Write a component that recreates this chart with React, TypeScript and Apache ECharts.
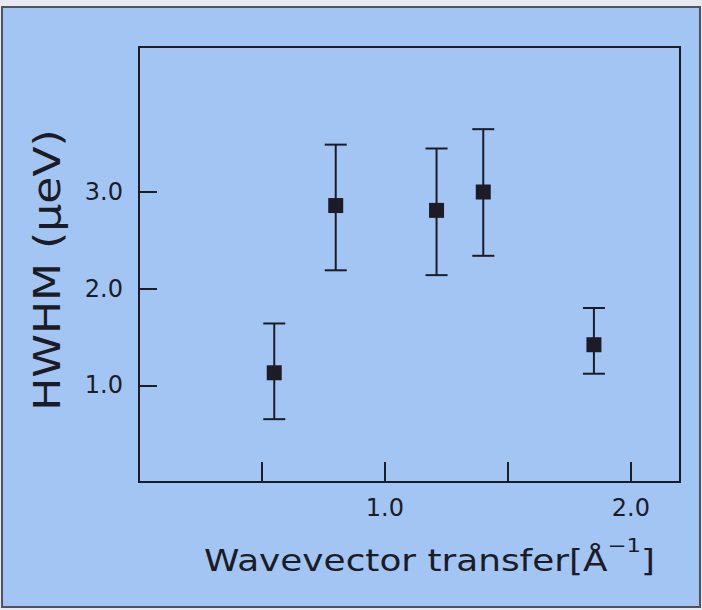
import React, { useEffect, useRef } from "react";
import * as echarts from "echarts";

// Data
const xValues = [0.55, 0.8, 1.21, 1.4, 1.85];
const hwhm = [1.13, 2.86, 2.81, 3.0, 1.42];
const errLow = [0.65, 2.19, 2.14, 2.34, 1.12];
const errHigh = [1.64, 3.49, 3.45, 3.65, 1.8];
const xTickValues = [0.5, 1.0, 1.5, 2.0];
const xLabelValues = [1.0, 2.0];
const yTickValues = [1.0, 2.0, 3.0];
const yLabelValues = [1.0, 2.0, 3.0];

const INK = "#1c1c26";
const BG = "#a2c5f3";
const FONT = "DejaVu Sans";

export default function App() {
  const ref = useRef<HTMLDivElement>(null);
  useEffect(() => {
    if (!ref.current) return;
    const chart = echarts.init(ref.current, null, { renderer: "svg" });
    const errData = xValues.map((x, i) => [x, errLow[i], errHigh[i]]);
    const ptData = xValues.map((x, i) => [x, hwhm[i]]);
    chart.setOption({
      animation: false,
      backgroundColor: BG,
      grid: {
        left: 139,
        right: 22,
        top: 47,
        bottom: 128,
        show: true,
        borderColor: INK,
        borderWidth: 2,
        backgroundColor: "transparent",
      },
      xAxis: {
        type: "value",
        min: 0,
        max: 2.2,
        splitLine: { show: false },
        axisLine: { show: true, lineStyle: { color: INK, width: 2 } },
        axisTick: {
          show: true,
          inside: true,
          length: 20,
          lineStyle: { color: INK, width: 2 },
          customValues: xTickValues,
        },
        axisLabel: {
          customValues: xLabelValues,
          formatter: (v: number) => v.toFixed(1),
          fontSize: 24,
          fontFamily: FONT,
          color: INK,
          margin: 14,
        },
      },
      yAxis: {
        type: "value",
        min: 0,
        max: 4.5,
        splitLine: { show: false },
        axisLine: { show: true, lineStyle: { color: INK, width: 2 } },
        axisTick: {
          show: true,
          inside: true,
          length: 18,
          lineStyle: { color: INK, width: 2 },
          customValues: yTickValues,
        },
        axisLabel: {
          customValues: yLabelValues,
          formatter: (v: number) => v.toFixed(1),
          fontSize: 24,
          fontFamily: FONT,
          color: INK,
          margin: 16,
        },
      },
      series: [
        {
          type: "custom",
          data: errData,
          encode: { x: 0, y: [1, 2] },
          renderItem: (params: any, api: any) => {
            const x = api.value(0);
            const lo = api.coord([x, api.value(1)]);
            const hi = api.coord([x, api.value(2)]);
            const cap = 11;
            const style = { stroke: INK, lineWidth: 2 };
            return {
              type: "group",
              children: [
                { type: "line", shape: { x1: lo[0], y1: lo[1], x2: hi[0], y2: hi[1] }, style },
                { type: "line", shape: { x1: hi[0] - cap, y1: hi[1], x2: hi[0] + cap, y2: hi[1] }, style },
                { type: "line", shape: { x1: lo[0] - cap, y1: lo[1], x2: lo[0] + cap, y2: lo[1] }, style },
              ],
            };
          },
          z: 2,
        },
        {
          type: "scatter",
          data: ptData,
          symbol: "rect",
          symbolSize: 15,
          itemStyle: { color: INK, opacity: 1 },
          z: 3,
        },
      ],
      graphic: [
        { type: "rect", shape: { x: 0, y: 0, width: 702, height: 6 }, style: { fill: "#e6eaf0" }, silent: true },
        { type: "rect", shape: { x: 0, y: 0, width: 1, height: 610 }, style: { fill: "#e6eaf0" }, silent: true },
        { type: "rect", shape: { x: 701, y: 0, width: 1, height: 610 }, style: { fill: "#e6eaf0" }, silent: true },
        { type: "rect", shape: { x: 0, y: 608, width: 702, height: 2 }, style: { fill: "#e6eaf0" }, silent: true },
        {
          type: "rect",
          shape: { x: 2, y: 7, width: 698, height: 600 },
          style: { fill: "none", stroke: "#4e535e", lineWidth: 2 },
          silent: true,
        },
        {
          type: "text",
          x: 47,
          y: 270,
          rotation: Math.PI / 2,
          scaleX: 1.16,
          style: {
            text: "HWHM (μeV)",
            font: `38px "${FONT}"`,
            fill: INK,
            align: "center",
            verticalAlign: "middle",
          },
          silent: true,
        },
        {
          type: "text",
          x: 204,
          y: 556,
          scaleX: 1.195,
          style: {
            text: "{a|Wavevector transfer[Å}{s|−1}{a|]}",
            fill: INK,
            align: "left",
            verticalAlign: "middle",
            rich: {
              a: { fontFamily: FONT, fontSize: 30, color: INK, lineHeight: 40, verticalAlign: "bottom" },
              s: { fontFamily: FONT, fontSize: 19, color: INK, lineHeight: 40, verticalAlign: "top" },
            },
          },
          silent: true,
        },
      ],
    });
    return () => chart.dispose();
  }, []);
  return (
    <div
      ref={ref}
      style={{ position: "fixed", left: 0, top: 0, width: 702, height: 610 }}
    />
  );
}
